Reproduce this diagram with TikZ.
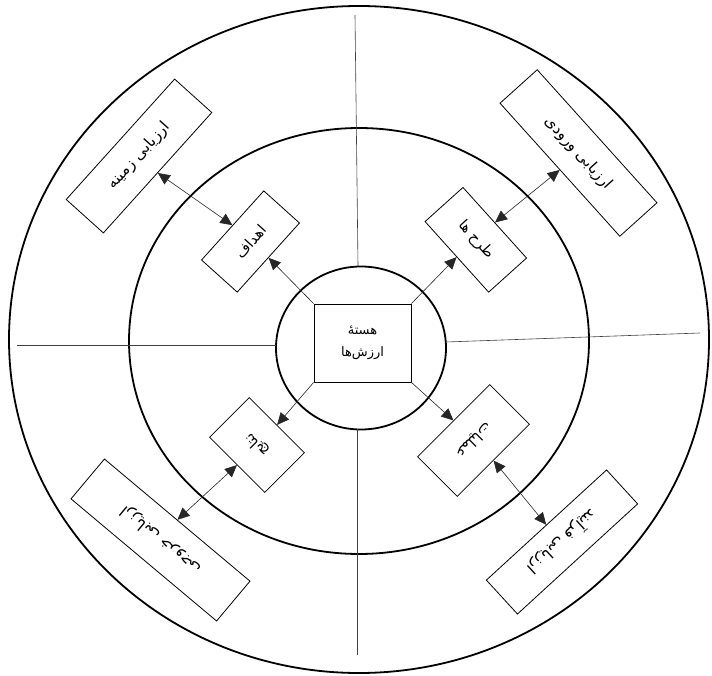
\documentclass[tikz,border=0pt]{standalone}
\usepackage{fontspec}
\newfontfamily\fa[Script=Arabic]{DejaVu Sans}
\TeXXeTstate=1
\usetikzlibrary{arrows.meta}
\begin{document}
\begin{tikzpicture}[x=1pt,y=-1pt,
  ring/.style={line width=1.8pt},
  box/.style={draw, line width=0.8pt, rectangle, inner sep=0pt, fill=white, font=\fa\fontsize{15.5}{18}\selectfont},
  ibox/.style={box, font=\fa\fontsize{14.5}{17}\selectfont},
  conn/.style={line width=0.6pt, draw=black!85},
  arr/.style={conn, -{Triangle[length=12pt,width=11pt]}},
  darr/.style={conn, {Triangle[length=12pt,width=11pt]}-{Triangle[length=12pt,width=11pt]}},
  divider/.style={line width=0.6pt, draw=black!75}]
\useasboundingbox (0,0) rectangle (712,676);
% rings
\draw[ring] (359,339.5) ellipse [x radius=350pt, y radius=333.5pt];
\draw[ring] (359,341) ellipse [x radius=230pt, y radius=213pt];
\draw[ring] (361,348) ellipse [x radius=85pt, y radius=81.5pt];
% dividing lines
\coordinate (dT1) at (355,15);  \coordinate (dT2) at (358,266);
\coordinate (dL1) at (17,345);  \coordinate (dL2) at (276,345);
\coordinate (dB1) at (357,429); \coordinate (dB2) at (357,655);
\coordinate (dR1) at (446,342); \coordinate (dR2) at (700,333);
\draw[divider] (dT1) -- (dT2);
\draw[divider] (dL1) -- (dL2);
\draw[divider] (dB1) -- (dB2);
\draw[divider] (dR1) -- (dR2);
% core
\node[draw, line width=0.8pt, minimum width=97pt, minimum height=78pt, align=center,
      font=\fa\fontsize{13}{15}\selectfont] (core) at (362.5,343)
  {\beginR هستهٔ\endR\\[7pt]\beginR ارزش‌ها\endR};
% inner boxes
\node[ibox, rotate=48, minimum width=93pt, minimum height=48pt] (iTL) at (250.5,241.5) {\beginR اهداف\endR};
\node[ibox, rotate=-48, minimum width=95pt, minimum height=51pt] (iTR) at (475.8,239.8) {\beginR طرح ها\endR};
\node[ibox, rotate=135, minimum width=78pt, minimum height=56pt] (iBL) at (257,445) {\beginR نتایج\endR};
\node[ibox, rotate=-135, minimum width=102pt, minimum height=56pt] (iBR) at (473.5,440.5) {\beginR عملیات\endR};
% outer boxes
\node[box, rotate=48, minimum width=162pt, minimum height=50pt] (oTL) at (139,156) {\beginR ارزیابی زمینه\endR};
\node[box, rotate=-48, minimum width=179pt, minimum height=50pt] (oTR) at (578.5,153) {\beginR ارزیابی ورودی\endR};
\node[box, rotate=140, minimum width=190pt, minimum height=52pt] (oBL) at (160.5,540) {\beginR ارزیابی خروجی\endR};
\node[box, rotate=-137.5, minimum width=163pt, minimum height=46pt] (oBR) at (562,542) {\beginR ارزیابی فرآیند\endR};
% arrows from core
\draw[arr] (core.north west) -- (iTL.south);
\draw[arr] (core.north east) -- (iTR.south);
\draw[arr] (core.south west) -- (iBL.south);
\draw[arr] (core.south east) -- (iBR.south);
% double arrows
\draw[darr] (oTL.south) -- (iTL.north);
\draw[darr] (oTR.south) -- (iTR.north);
\draw[darr] (oBL.south) -- (iBL.north);
\draw[darr] (oBR.south) -- (iBR.north);
\end{tikzpicture}
\end{document}
